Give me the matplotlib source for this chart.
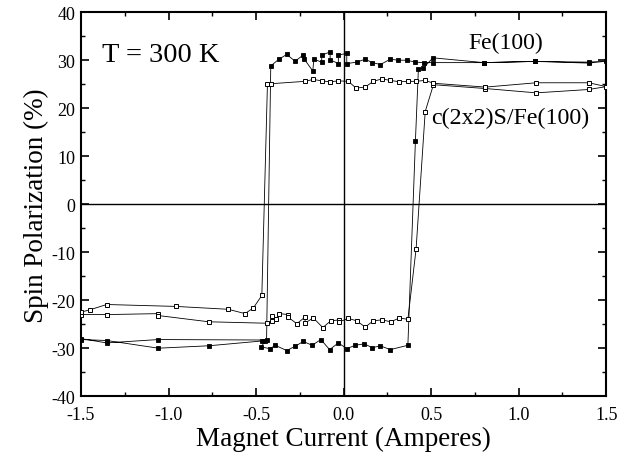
import matplotlib
matplotlib.use("Agg")
import matplotlib.pyplot as plt
from matplotlib.ticker import MultipleLocator, FormatStrFormatter

plt.rcParams['font.family'] = ['Liberation Serif', 'DejaVu Serif']
plt.rcParams['axes.unicode_minus'] = False

# Fe(100) loop (filled squares), in measurement order
fe_x = [-1.5, -1.353, -1.058, -0.77, -0.467, -0.449, -0.47, -0.42, -0.39, -0.325, -0.277,
        -0.23, -0.18, -0.13, -0.08, -0.03, 0.018, 0.066, 0.117, 0.165, 0.21, 0.266, 0.367,
        0.41, 0.427, 0.456, 0.51, 0.80, 1.094, 1.40, 1.5,
        1.40, 1.094, 0.80, 0.51, 0.46, 0.41, 0.36, 0.313, 0.266, 0.21, 0.165, 0.123, 0.075,
        0.018, 0.018, -0.03, -0.03, -0.077, -0.077, -0.125, -0.125, -0.17, -0.176, -0.226,
        -0.23, -0.277, -0.325, -0.37, -0.416,
        -0.44, -1.058, -1.353, -1.5]
fe_y = [-28.2, -28.4, -30.0, -29.5, -28.5, -28.5, -29.75, -30.1, -29.4, -30.5, -29.6,
        -28.6, -29.4, -28.2, -30.3, -28.9, -30.1, -29.4, -29.1, -29.9, -29.5, -30.3, -29.4,
        13.1, 28.1, 28.4, 30.5, 29.5, 29.75, 29.6, 29.8,
        29.4, 29.75, 29.5, 29.5, 29.5, 29.6, 30.0, 30.0, 30.2, 29.1, 29.5, 30.2, 29.6,
        29.3, 31.4, 31.1, 29.3, 30.1, 31.7, 31.1, 29.6, 30.2, 27.75, 30.3,
        31.1, 29.8, 31.2, 30.2, 28.8,
        -28.3, -28.2, -28.9, -28.0]

# c(2x2)S/Fe(100) loop (open squares), in measurement order
s_x = [-1.5, -1.353, -1.058, -1.058, -0.77, -0.44, -0.41, -0.41, -0.386, -0.367, -0.315,
       -0.315, -0.267, -0.22, -0.22, -0.173, -0.119, -0.073, -0.024, -0.024, 0.027, 0.075,
       0.123, 0.17, 0.218, 0.27, 0.319, 0.367,
       0.414, 0.466, 0.513, 0.81, 1.10, 1.40, 1.5,
       1.40, 1.10, 0.81, 0.513, 0.466, 0.414, 0.37, 0.319, 0.266, 0.218, 0.17, 0.123,
       0.071, 0.027, -0.03, -0.077, -0.125, -0.173, -0.22, -0.416, -0.435,
       -0.467, -0.515, -0.563, -0.658, -0.957, -1.353, -1.449, -1.5]
s_y = [-23.0, -23.0, -22.8, -23.2, -24.5, -24.8, -24.4, -23.3, -23.9, -22.8, -23.0,
       -23.6, -24.9, -23.5, -24.75, -23.7, -25.7, -24.3, -24.1, -24.5, -23.8, -24.3,
       -25.6, -24.3, -24.1, -24.5, -23.7, -24.0,
       -9.3, 19.3, 24.9, 24.1, 23.2, 23.9, 24.5,
       25.3, 25.3, 24.4, 25.2, 25.8, 25.6, 25.6, 25.5, 25.8, 26.1, 25.6, 24.4,
       24.2, 25.6, 25.7, 25.5, 25.7, 26.0, 25.6, 25.1, 25.0,
       -19.0, -21.6, -22.8, -21.9, -21.3, -20.9, -22.0, -22.5]

x_ticks = [-1.5, -1.0, -0.5, 0.0, 0.5, 1.0, 1.5]
y_ticks = [-40, -30, -20, -10, 0, 10, 20, 30, 40]

fig = plt.figure(figsize=(6.18, 4.56), dpi=100)
ax = fig.add_axes([0.131, 0.129, 0.850, 0.842])

ax.axhline(0, color='black', lw=1.0, zorder=1)
ax.axvline(0, color='black', lw=1.0, zorder=1)

ax.plot(fe_x, fe_y, '-', color='black', lw=0.6, marker='s', ms=3.4,
        mfc='black', mec='black', mew=0.6, zorder=3)
ax.plot(s_x, s_y, '-', color='black', lw=0.6, marker='s', ms=3.4,
        mfc='white', mec='black', mew=0.7, zorder=3)

ax.set_xlim(-1.5, 1.5)
ax.set_ylim(-40, 40)
ax.set_xticks(x_ticks)
ax.set_yticks(y_ticks)
ax.xaxis.set_major_formatter(FormatStrFormatter('%.1f'))
ax.yaxis.set_major_formatter(FormatStrFormatter('%d'))
ax.xaxis.set_minor_locator(MultipleLocator(0.25))
ax.yaxis.set_minor_locator(MultipleLocator(5))
ax.tick_params(which='both', direction='in', top=True, right=True, labelsize=13)
ax.tick_params(axis='x', which='major', pad=7)
ax.tick_params(axis='y', which='major', pad=4)
ax.tick_params(which='major', length=6, width=1.2)
ax.tick_params(which='minor', length=3, width=1.0)
for sp in ax.spines.values():
    sp.set_linewidth(1.5)

ax.set_xlabel('Magnet Current (Amperes)', fontsize=19.5, labelpad=2)
ax.set_ylabel('Spin Polarization (%)', fontsize=19.5, labelpad=2)

ax.text(0.04, 0.89, 'T = 300 K', transform=ax.transAxes, fontsize=20.5, ha='left', va='center')
ax.text(0.737, 0.922, 'Fe(100)', transform=ax.transAxes, fontsize=17, ha='left', va='center')
ax.text(0.667, 0.727, 'c(2x2)S/Fe(100)', transform=ax.transAxes, fontsize=17.3, ha='left', va='center')

fig.savefig('out.png', dpi=100)
